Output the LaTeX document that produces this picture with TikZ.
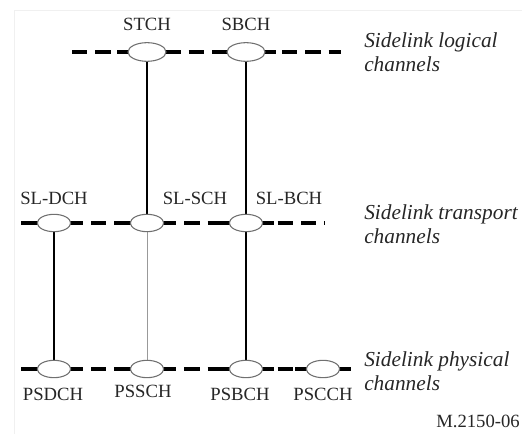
\documentclass[tikz,border=0pt]{standalone}
\usepackage{fontspec}
\usetikzlibrary{shapes.geometric}
\setmainfont{Liberation Serif}
\definecolor{txt}{HTML}{262626}
\definecolor{ell}{HTML}{707070}
\begin{document}
\begin{tikzpicture}[x=0.75pt,y=-0.75pt,
  chan/.style={draw=ell,line width=0.8pt,fill=white,ellipse,inner sep=0pt,minimum width=25pt,minimum height=13pt},
  chanbig/.style={chan,minimum width=28.5pt,minimum height=14pt},
  lbl/.style={text=txt,font=\fontsize{14}{16}\selectfont,inner sep=0pt},
  side/.style={text=txt,font=\fontsize{16}{17.6}\selectfont\itshape,align=left,anchor=west,inner sep=0pt},
  bus/.style={line width=3pt,dash pattern=on 11.5pt off 6pt},
  stub/.style={line width=3pt},
  link/.style={line width=0.9pt,black}]
\useasboundingbox (0,0) rectangle (522,434);
\draw[color=black!6,line width=0.6pt] (14,434) -- (14,10) -- (522,10);
% coordinates for line ends
\coordinate (t0) at (72,52);
\coordinate (t1) at (341,52);
\coordinate (m0) at (21,223);
\coordinate (m1) at (325,223);
\coordinate (b0) at (21,369);
\coordinate (b1) at (348,369);
% buses
\draw[bus] (t0) -- (t1);
\draw[bus] (m0) -- (m1);
\draw[bus] (b0) -- (b1);
% solid pieces flanking each ellipse
\foreach \x/\y/\r in {147/52/19,246/52/19,54/223/17,147/223/17,246/223/17,54/369/17,147/369/17,246/369/17,323/369/17}
  \draw[stub] (\x-\r-11,\y) -- (\x+\r+11,\y);
\draw[stub] (21,223) -- (60,223);
\draw[stub] (21,369) -- (60,369);
\draw[stub] (320,369) -- (b1);
% vertical links (under ellipses)
\draw[link] (147,52) -- (147,223);
\draw[link] (246,52) -- (246,369);
\draw[link] (54,223) -- (54,369);
\draw[line width=0.6pt,black!40] (147,223) -- (147,369);
% ellipses
\node[chanbig] (stch) at (147,52) {};
\node[chanbig] (sbch) at (246,52) {};
\node[chan] (sldch) at (54,223) {};
\node[chan] (slsch) at (147,223) {};
\node[chan] (slbch) at (246,223) {};
\node[chan] (psdch) at (54,369) {};
\node[chan] (pssch) at (147,369) {};
\node[chan] (psbch) at (246,369) {};
\node[chan] (pscch) at (323,369) {};
% labels
\node[lbl] (lstch) at (147,24) {STCH};
\node[lbl] (lsbch) at (246,24) {SBCH};
\node[lbl] (lsldch) at (54,198) {SL-DCH};
\node[lbl] (lslsch) at (195,198) {SL-SCH};
\node[lbl] (lslbch) at (289,198) {SL-BCH};
\node[lbl] (lpsdch) at (53,394) {PSDCH};
\node[lbl] (lpssch) at (143,391) {PSSCH};
\node[lbl] (lpsbch) at (240,394) {PSBCH};
\node[lbl] (lpscch) at (323,394) {PSCCH};
% side texts
\node[side] (slog) at (364,52) {Sidelink logical\\channels};
\node[side] (stra) at (364,224) {Sidelink transport\\channels};
\node[side] (sphy) at (364,371) {Sidelink physical\\channels};
\node[lbl,anchor=east] (fig) at (520,421) {M.2150-06};
\end{tikzpicture}
\end{document}
